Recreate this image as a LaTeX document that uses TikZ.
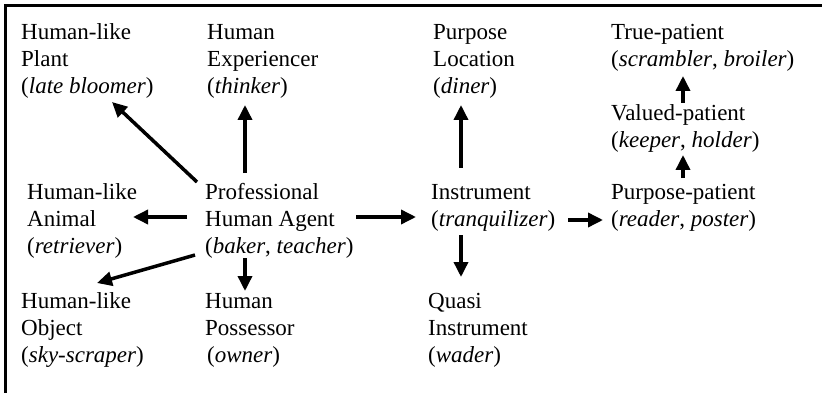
\documentclass[tikz,border=0pt]{standalone}
\usepackage{fontspec}
\setmainfont{Liberation Serif}
\usetikzlibrary{arrows.meta,calc}
\tikzset{
  lbl/.style={anchor=base west, align=left, inner sep=0pt, font=\fontsize{23pt}{27pt}\selectfont},
  arr/.style={line width=3.5pt, -{Triangle[length=15pt,width=14pt]}},
}
\begin{document}
\begin{tikzpicture}[x=1pt,y=-1pt]
\useasboundingbox (0,0) rectangle (822,393);
\draw[line width=3pt] (5,393) -- (5,6) -- (822,6);
% nodes (anchored at the baseline of their last line)
\node[lbl] (plant)  at (21,94)  {Human-like\\Plant\\(\textit{late bloomer})};
\node[lbl] (exper)  at (207,94) {Human\\Experiencer\\(\textit{thinker})};
\node[lbl] (loc)    at (433,94) {Purpose\\Location\\(\textit{diner})};
\node[lbl] (truep)  at (611,67) {True-patient\\(\textit{scrambler}, \textit{broiler})};
\node[lbl] (valued) at (611,148) {Valued-patient\\(\textit{keeper}, \textit{holder})};
\node[lbl] (animal) at (27,253) {Human-like\\Animal\\(\textit{retriever})};
\node[lbl] (prof)   at (205,253) {Professional\\Human Agent\\(\textit{baker}, \textit{teacher})};
\node[lbl] (instr)  at (431,226) {Instrument\\(\textit{tranquilizer})};
\node[lbl] (ppat)   at (611,226) {Purpose-patient\\(\textit{reader}, \textit{poster})};
\node[lbl] (object) at (21,362) {Human-like\\Object\\(\textit{sky-scraper})};
\node[lbl] (poss)   at (205,362) {Human\\Possessor\\\hspace*{2pt}(\textit{owner})};
\node[lbl] (quasi)  at (428,362) {Quasi\\Instrument\\(\textit{wader})};
% arrows
\draw[arr] ($(prof.base west)+(-8,-71)$) -- ($(plant.base west)+(91,8)$);
\draw[arr] ($(prof.base west)+(40,-80)$) -- ($(exper.base west)+(38,11)$);
\draw[arr] ($(prof.base west)+(-18,-36)$) -- ($(animal.base west)+(106,-36)$);
\draw[arr] ($(prof.base west)+(151,-36)$) -- ($(instr.base west)+(-15,-9)$);
\draw[arr] ($(prof.base west)+(-10,2)$) -- ($(object.base west)+(76,-79)$);
\draw[arr] ($(prof.base west)+(40,5)$) -- ($(poss.base west)+(40,-71)$);
\draw[arr] ($(instr.base west)+(30,-58)$) -- ($(loc.base west)+(28,11)$);
\draw[arr] ($(instr.base west)+(30,9)$) -- ($(quasi.base west)+(33,-85)$);
\draw[arr] ($(instr.base west)+(137,-6)$) -- ($(ppat.base west)+(-8,-6)$);
\draw[arr] ($(ppat.base west)+(72,-48)$) -- ($(valued.base west)+(72,7)$);
\draw[arr] ($(valued.base west)+(72,-45)$) -- ($(truep.base west)+(72,9)$);
\end{tikzpicture}
\end{document}
